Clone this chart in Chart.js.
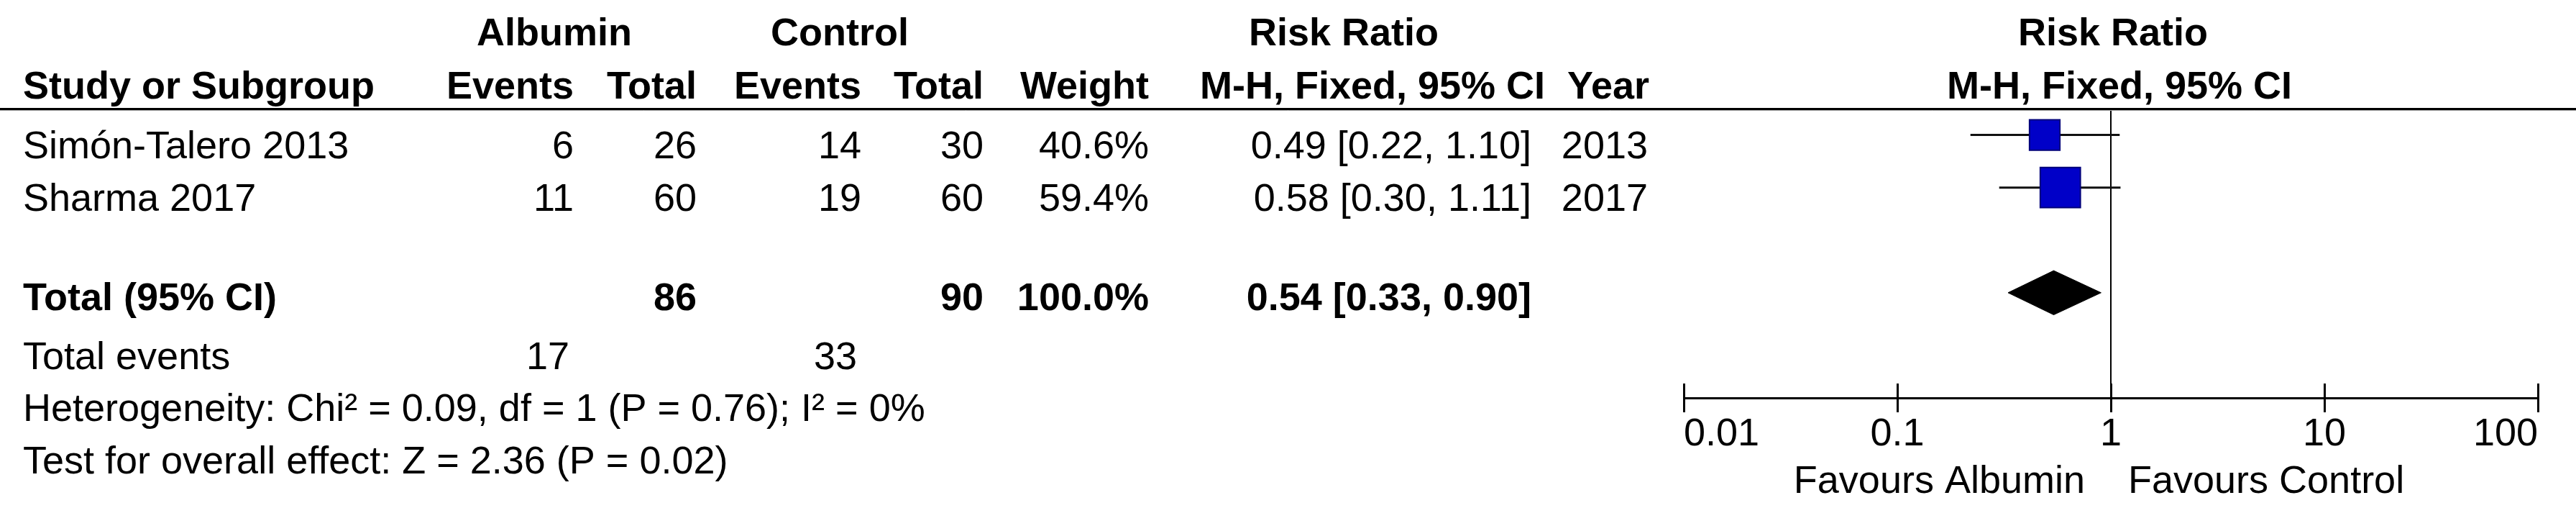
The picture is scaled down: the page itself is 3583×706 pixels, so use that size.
<!DOCTYPE html>
<html>
<head>
<meta charset="utf-8">
<title>Forest plot - Albumin vs Control</title>
<script src="https://cdn.jsdelivr.net/npm/chart.js@4.4.0/dist/chart.umd.min.js"></script>
<style>
  html, body { margin: 0; padding: 0; background: #fff; }
  #wrap { width: 3583px; height: 706px; }
</style>
</head>
<body>
<div id="wrap"><canvas id="forest" width="3583" height="706"></canvas></div>
<script>
// Study rows
const studies = ['Simón-Talero 2013', 'Sharma 2017'];
const years = [2013, 2017];
const albuminEvents = [6, 11];
const albuminTotal = [26, 60];
const controlEvents = [14, 19];
const controlTotal = [30, 60];
const weights = [40.6, 59.4];
const riskRatio = [0.49, 0.58];
const ciLower = [0.22, 0.30];
const ciUpper = [1.10, 1.11];

// Pooled result
const pooledRR = 0.54;
const pooledLower = 0.33;
const pooledUpper = 0.90;
const totalAlbumin = 86;
const totalControl = 90;
const totalWeight = 100.0;
const eventsAlbumin = 17;
const eventsControl = 33;
const heterogeneityText = 'Heterogeneity: Chi² = 0.09, df = 1 (P = 0.76); I² = 0%';
const overallEffectText = 'Test for overall effect: Z = 2.36 (P = 0.02)';

// Axis
const tickValues = [0.01, 0.1, 1, 10, 100];
const tickLabels = ['0.01', '0.1', '1', '10', '100'];

// Row slots on the hidden y scale
const studyRows = [0.5, 1.5];
const pooledRow = 3.5;

const FONT = '"Liberation Sans", Arial, sans-serif';
const FS = 54;

// right edges of the table columns (layout only)
const col = { left: 32, evA: 798, totA: 969, evC: 1198, totC: 1368, weight: 1598, rr: 2130, year: 2292 };
const rowBase = { head1: 63, head2: 137, study: [220, 293], total: 431, events: 513, het: 585, test: 658 };

function fmtCI(est, lo, hi) {
  return `${est.toFixed(2)} [${lo.toFixed(2)}, ${hi.toFixed(2)}]`;
}

function squareSide(w) {
  return 0.72 * w + 13;
}

// Table text, header rule, axis tick marks and axis captions
const forestTable = {
  id: 'forestTable',
  afterDraw(chart) {
    const ctx = chart.ctx;
    const xs = chart.scales.x;
    const x1 = xs.getPixelForValue(1);
    const axisY = chart.chartArea.bottom;

    function text(str, x, y, align, bold) {
      ctx.font = `${bold ? 'bold ' : ''}${FS}px ${FONT}`;
      ctx.textAlign = align;
      ctx.textBaseline = 'alphabetic';
      ctx.fillStyle = '#000';
      ctx.fillText(str, x, y);
    }

    ctx.save();

    // header
    text('Albumin', 771, rowBase.head1, 'center', true);
    text('Control', 1168, rowBase.head1, 'center', true);
    text('Risk Ratio', 1869, rowBase.head1, 'center', true);
    text('Risk Ratio', x1 + 3, rowBase.head1, 'center', true);

    text('Study or Subgroup', col.left, rowBase.head2, 'left', true);
    text('Events', col.evA, rowBase.head2, 'right', true);
    text('Total', col.totA, rowBase.head2, 'right', true);
    text('Events', col.evC, rowBase.head2, 'right', true);
    text('Total', col.totC, rowBase.head2, 'right', true);
    text('Weight', col.weight, rowBase.head2, 'right', true);
    text('M-H, Fixed, 95% CI', 1669, rowBase.head2, 'left', true);
    text('Year', 2294, rowBase.head2, 'right', true);
    text('M-H, Fixed, 95% CI', x1 + 12, rowBase.head2, 'center', true);

    // rule under header
    ctx.strokeStyle = '#000';
    ctx.lineWidth = 3;
    ctx.beginPath();
    ctx.moveTo(0, 151.5);
    ctx.lineTo(chart.width, 151.5);
    ctx.stroke();
    ctx.strokeStyle = '#aaa';
    ctx.lineWidth = 1;
    ctx.beginPath();
    ctx.moveTo(0, 153.5);
    ctx.lineTo(chart.width, 153.5);
    ctx.stroke();

    // study rows
    studies.forEach((name, i) => {
      const y = rowBase.study[i];
      text(name, col.left, y, 'left', false);
      text(String(albuminEvents[i]), col.evA, y, 'right', false);
      text(String(albuminTotal[i]), col.totA, y, 'right', false);
      text(String(controlEvents[i]), col.evC, y, 'right', false);
      text(String(controlTotal[i]), col.totC, y, 'right', false);
      text(weights[i].toFixed(1) + '%', col.weight, y, 'right', false);
      text(fmtCI(riskRatio[i], ciLower[i], ciUpper[i]), col.rr, y, 'right', false);
      text(String(years[i]), col.year, y, 'right', false);
    });

    // totals
    text('Total (95% CI)', col.left, rowBase.total, 'left', true);
    text(String(totalAlbumin), col.totA, rowBase.total, 'right', true);
    text(String(totalControl), col.totC, rowBase.total, 'right', true);
    text(totalWeight.toFixed(1) + '%', col.weight, rowBase.total, 'right', true);
    text(fmtCI(pooledRR, pooledLower, pooledUpper), col.rr, rowBase.total, 'right', true);

    text('Total events', col.left, rowBase.events, 'left', false);
    text(String(eventsAlbumin), col.evA - 6, rowBase.events, 'right', false);
    text(String(eventsControl), col.evC - 6, rowBase.events, 'right', false);
    text(heterogeneityText, col.left, rowBase.het, 'left', false);
    text(overallEffectText, col.left, rowBase.test, 'left', false);

    // tick marks crossing the axis line
    ctx.strokeStyle = '#000';
    ctx.lineWidth = 3;
    tickValues.forEach(v => {
      const x = Math.round(xs.getPixelForValue(v)) + 0.5;
      ctx.beginPath();
      ctx.moveTo(x, axisY - 20);
      ctx.lineTo(x, axisY + 20);
      ctx.stroke();
    });

    // favours captions
    text('Favours Albumin', x1 - 36, 685, 'right', false);
    text('Favours Control', x1 + 24, 685, 'left', false);

    ctx.restore();
  }
};

const ctx = document.getElementById('forest').getContext('2d');

const ciDatasets = studies.map((s, i) => ({
  type: 'line',
  label: s + ' CI',
  data: [{ x: ciLower[i], y: studyRows[i] }, { x: ciUpper[i], y: studyRows[i] }],
  borderColor: '#111',
  borderWidth: 3,
  pointRadius: 0,
  fill: false,
  order: 2
}));

const forestChart = new Chart(ctx, {
  type: 'scatter',
  data: {
    datasets: [
      {
        type: 'scatter',
        label: 'Studies',
        data: studies.map((s, i) => ({ x: riskRatio[i], y: studyRows[i] })),
        pointStyle: 'rect',
        pointRadius: c => squareSide(weights[c.dataIndex]) / Math.SQRT2,
        backgroundColor: '#0000c8',
        borderColor: '#00007a',
        borderWidth: 2,
        order: 0
      },
      ...ciDatasets,
      {
        type: 'line',
        label: 'Total',
        data: [
          { x: pooledLower, y: pooledRow },
          { x: pooledRR, y: pooledRow - 0.42 },
          { x: pooledUpper, y: pooledRow },
          { x: pooledRR, y: pooledRow + 0.42 },
          { x: pooledLower, y: pooledRow }
        ],
        borderColor: '#000',
        backgroundColor: '#000',
        borderWidth: 1,
        pointRadius: 0,
        tension: 0,
        fill: 'shape',
        order: 1
      }
    ]
  },
  options: {
    responsive: false,
    devicePixelRatio: 1,
    animation: false,
    events: [],
    layout: { padding: { left: 2342, right: 53, top: 151, bottom: 0 } },
    plugins: {
      legend: { display: false },
      tooltip: { enabled: false }
    },
    scales: {
      x: {
        type: 'logarithmic',
        position: 'bottom',
        min: 0.01,
        max: 100,
        afterBuildTicks: scale => {
          scale.ticks = tickValues.map(v => ({ value: v }));
        },
        afterFit: scale => {
          scale.height = 153;
        },
        ticks: {
          callback: (value, index) => tickLabels[index],
          font: { family: FONT, size: FS },
          color: '#000',
          align: 'inner',
          padding: 19,
          autoSkip: false,
          maxRotation: 0
        },
        grid: {
          drawTicks: false,
          lineWidth: 2,
          color: c => (c.tick && c.tick.value === 1 ? '#000' : 'rgba(0,0,0,0)')
        },
        border: { display: true, color: '#000', width: 3 }
      },
      y: {
        type: 'linear',
        min: 0,
        max: 5.5,
        reverse: true,
        display: false
      }
    }
  },
  plugins: [forestTable]
});
</script>
</body>
</html>
